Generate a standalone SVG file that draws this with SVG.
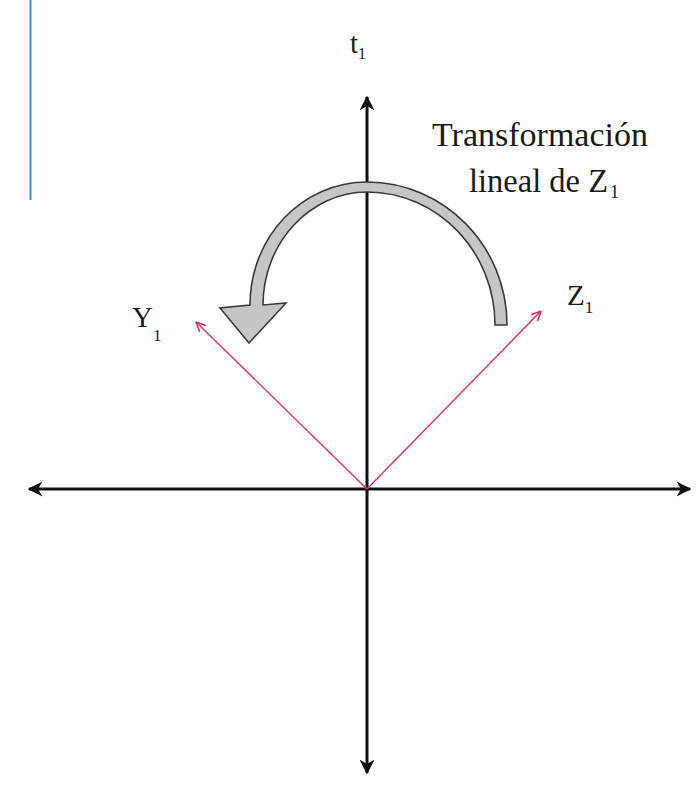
<svg xmlns="http://www.w3.org/2000/svg" width="698" height="805" viewBox="0 0 698 805">
<style>
.axis{stroke:#111;stroke-width:3;fill:none}
.vec{stroke:#dc2f5e;stroke-width:1.4;fill:none}
.lbl{font-family:"Liberation Serif","DejaVu Serif",serif;fill:#1a1a1a}
</style>
<defs>
<marker id="ah" viewBox="0 0 10 10" refX="9" refY="5" markerWidth="5" markerHeight="5" orient="auto" markerUnits="strokeWidth">
<path d="M0,0 L10,5 L0,10 L3,5 Z" fill="#111"/>
</marker>
<marker id="rh" viewBox="0 0 10 10" refX="9.5" refY="5" markerWidth="8" markerHeight="8" orient="auto" markerUnits="strokeWidth">
<path d="M1,1 L9.5,5 L1,9" fill="none" stroke="#dc2f5e" stroke-width="1.4"/>
</marker>
</defs>
<rect width="698" height="805" fill="#fff"/>
<g id="frame">
<line x1="30.5" y1="0" x2="30.5" y2="200" stroke="#4f86d6" stroke-width="2"/>
</g>
<g id="connectors">
<line class="axis" x1="367" y1="489" x2="367" y2="97" marker-end="url(#ah)"/>
<line class="axis" x1="367" y1="489" x2="367" y2="773" marker-end="url(#ah)"/>
<line class="axis" x1="367" y1="489" x2="29" y2="489" marker-end="url(#ah)"/>
<line class="axis" x1="367" y1="489" x2="690" y2="489" marker-end="url(#ah)"/>
<line class="vec" x1="367" y1="489" x2="196" y2="322" marker-end="url(#rh)"/>
<line class="vec" x1="367" y1="489" x2="541" y2="311" marker-end="url(#rh)"/>
</g>
<g id="rotation-arrow">
<path d="M507,325 C507,246 444,182 367,182 C302,182 250,237 250,305 L220,308 L249,343 L286,303 L263,305 C263,243 310,192 367,192 C438,192 495,252 495,325 Z" fill="#c6c6c6" stroke="#3a3a3a" stroke-width="1.6" stroke-linejoin="miter"/>
</g>
<g id="label-t1">
<text class="lbl" x="350" y="53" font-size="29">t<tspan font-size="16" dy="6">1</tspan></text>
</g>
<g id="label-transform">
<text class="lbl" x="432" y="146" font-size="33" textLength="216" lengthAdjust="spacingAndGlyphs">Transformación</text>
<text class="lbl" x="469" y="192" font-size="33" textLength="139" lengthAdjust="spacingAndGlyphs">lineal de Z</text>
<text class="lbl" x="610" y="198" font-size="18">1</text>
</g>
<g id="label-y1">
<text class="lbl" x="132" y="327" font-size="29">Y<tspan font-size="17" dy="14">1</tspan></text>
</g>
<g id="label-z1">
<text class="lbl" x="567" y="305" font-size="29">Z<tspan font-size="17" dy="8">1</tspan></text>
</g>
</svg>
